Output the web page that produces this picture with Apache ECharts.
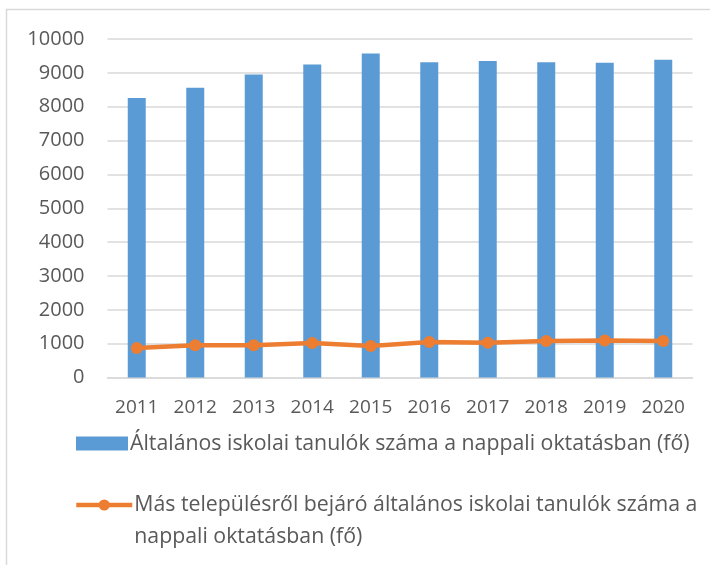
<!DOCTYPE html>
<html lang="hu">

<head>
    <meta charset="UTF-8">
    <title>Tanulók</title>
    <style>
        html,
        body {
            margin: 0;
            padding: 0;
            width: 100%;
            height: 100%;
            background-color: #fff;
        }

        #chart {
            width: 710px;
            height: 565px;
        }
    </style>
</head>

<body>
    <div id="chart"></div>
    <script src="https://cdn.jsdelivr.net/npm/echarts@6/dist/echarts.min.js"></script>
    <script>
        const years = ['2011', '2012', '2013', '2014', '2015', '2016', '2017', '2018', '2019', '2020']
        const tanulok = [8260, 8560, 8950, 9250, 9570, 9310, 9350, 9310, 9300, 9390]
        const bejarok = [870, 950, 950, 1020, 930, 1050, 1030, 1080, 1090, 1080]

        const nameBar = 'Általános iskolai tanulók száma a nappali oktatásban (fő)'
        const nameLine = 'Más településről bejáró általános iskolai tanulók száma a\nnappali oktatásban (fő)'

        const font = 'Open Sans'
        const textColor = '#595959'
        const orange = '#ed7d31'

        const chart = echarts.init(document.getElementById('chart'))

        chart.setOption({
            animation: false,
            textStyle: { fontFamily: font },
            graphic: [{
                // chart frame
                type: 'rect',
                shape: { x: 6.5, y: 9.5, width: 720, height: 600 },
                style: { fill: 'none', stroke: '#d9d9d9', lineWidth: 1.5 },
                silent: true
            }],
            grid: { left: 107.5, right: 17.5, top: 39, bottom: 187.5 },
            xAxis: {
                type: 'category',
                data: years,
                axisLine: { lineStyle: { color: '#d9d9d9', width: 1.5 } },
                axisTick: { show: false },
                axisLabel: { color: textColor, fontSize: 19, margin: 21, fontFamily: font }
            },
            yAxis: {
                type: 'value',
                min: 0,
                max: 10000,
                interval: 1000,
                axisLine: { show: false },
                axisTick: { show: false },
                splitLine: { lineStyle: { color: '#d9d9d9', width: 1.5 } },
                axisLabel: {
                    color: textColor, fontSize: 20, margin: 23, fontFamily: font,
                    formatter: v => String(v)
                }
            },
            legend: [{
                data: [{ name: nameBar, icon: 'rect' }],
                left: 76,
                top: 433,
                padding: 0,
                itemWidth: 52,
                itemHeight: 14,
                textStyle: { color: textColor, fontSize: 21.3, fontFamily: font, padding: [0, 0, 0, -3] }
            }, {
                data: [nameLine],
                left: 74,
                top: 457,
                padding: 0,
                itemWidth: 56,
                itemHeight: 14,
                lineStyle: { width: 4.5, color: orange },
                // blank first line keeps the icon level with the first text line
                formatter: name => ' \n' + name,
                textStyle: {
                    color: textColor, fontSize: 21.3, fontFamily: font,
                    lineHeight: 32, padding: [0, 0, 0, -3]
                }
            }],
            series: [{
                name: nameBar,
                type: 'bar',
                data: tanulok,
                barWidth: 18,
                itemStyle: { color: '#5b9bd5' }
            }, {
                name: nameLine,
                type: 'line',
                data: bejarok,
                symbol: 'circle',
                symbolSize: 12,
                lineStyle: { color: orange, width: 4.5 },
                itemStyle: { color: orange }
            }]
        })
    </script>
</body>

</html>
